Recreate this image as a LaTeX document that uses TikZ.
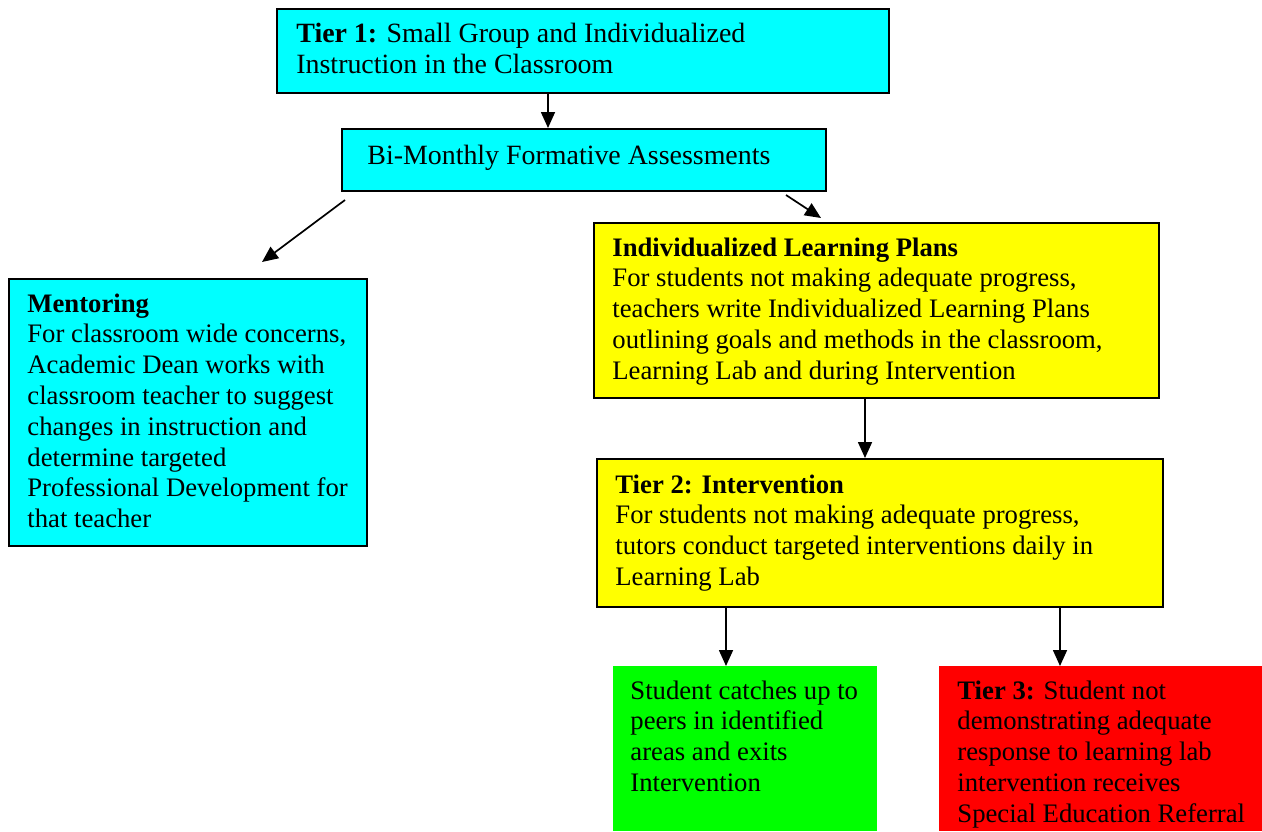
\documentclass[tikz,border=0pt]{standalone}
\usepackage{fontspec}
\setmainfont{Liberation Serif}
\usetikzlibrary{arrows.meta}
\newcommand\mylines[1]{\begin{tabular}[t]{@{}l@{}}#1\end{tabular}}
\begin{document}
\begin{tikzpicture}[x=0.5pt,y=-0.5pt,
  box/.style={draw=black, line width=1pt, inner sep=0pt, anchor=north west},
  plainbox/.style={inner sep=0pt, anchor=north west},
  txt/.style={inner sep=0pt, anchor=base west, font=\fontsize{13.35pt}{15.4pt}\selectfont},
  bigtxt/.style={txt, font=\fontsize{13.95pt}{15.5pt}\selectfont},
  arr/.style={line width=0.85pt, -{Triangle[length=8pt,width=7pt]}}]
\definecolor{cy}{RGB}{0,255,255}
\definecolor{yl}{RGB}{255,255,0}
\definecolor{gr}{RGB}{0,255,0}
\definecolor{rd}{RGB}{255,0,0}
\useasboundingbox (0,0) rectangle (1262,831);

% boxes
\node[box, fill=cy, minimum width=306pt, minimum height=42pt] (t1) at (276,8) {};
\node[box, fill=cy, minimum width=242pt, minimum height=31pt] (bm) at (341,128) {};
\node[box, fill=cy, minimum width=179pt, minimum height=133.5pt] (men) at (8,278) {};
\node[box, fill=yl, minimum width=282.5pt, minimum height=87.5pt] (ilp) at (593,222) {};
\node[box, fill=yl, minimum width=283pt, minimum height=74pt] (t2) at (596,458) {};
\node[plainbox, fill=gr, minimum width=132pt, minimum height=82.5pt] (ok) at (613,666) {};
\node[plainbox, fill=rd, minimum width=161.5pt, minimum height=82.5pt] (t3) at (939,666) {};

% texts
\node[bigtxt] (t1txt) at (296,42) {\mylines{\textbf{Tier 1:} Small Group and Individualized\\Instruction in the Classroom}};
\node[bigtxt] (bmtxt) at (367,164) {Bi-Monthly Formative Assessments};
\node[txt] (mentxt) at (27,312) {\mylines{\textbf{Mentoring}\\For classroom wide concerns,\\Academic Dean works with\\classroom teacher to suggest\\changes in instruction and\\determine targeted\\Professional Development for\\that teacher}};
\node[txt] (ilptxt) at (612,256) {\mylines{\textbf{Individualized Learning Plans}\\For students not making adequate progress,\\teachers write Individualized Learning Plans\\outlining goals and methods in the classroom,\\Learning Lab and during Intervention}};
\node[txt] (t2txt) at (615,493) {\mylines{\textbf{Tier 2: Intervention}\\For students not making adequate progress,\\tutors conduct targeted interventions daily in\\Learning Lab}};
\node[txt] (oktxt) at (630,699) {\mylines{Student catches up to\\peers in identified\\areas and exits\\Intervention}};
\node[txt] (t3txt) at (957,699) {\mylines{\textbf{Tier 3:} Student not\\demonstrating adequate\\response to learning lab\\intervention receives\\Special Education Referral}};

% connector helpers
\coordinate (xa) at (548,0);
\coordinate (xb) at (865,0);
\coordinate (xc) at (726,0);
\coordinate (xd) at (1060,0);
\coordinate (m1) at (345,200);
\coordinate (m2) at (262,262);
\coordinate (r1) at (786,195);
\coordinate (r2) at (821,218);

\draw[arr] (t1.south -| xa) -- (bm.north -| xa);
\draw[arr] (m1) -- (m2);
\draw[arr] (r1) -- (r2);
\draw[arr] (ilp.south -| xb) -- (t2.north -| xb);
\draw[arr] (t2.south -| xc) -- (ok.north -| xc);
\draw[arr] (t2.south -| xd) -- (t3.north -| xd);
\end{tikzpicture}
\end{document}
